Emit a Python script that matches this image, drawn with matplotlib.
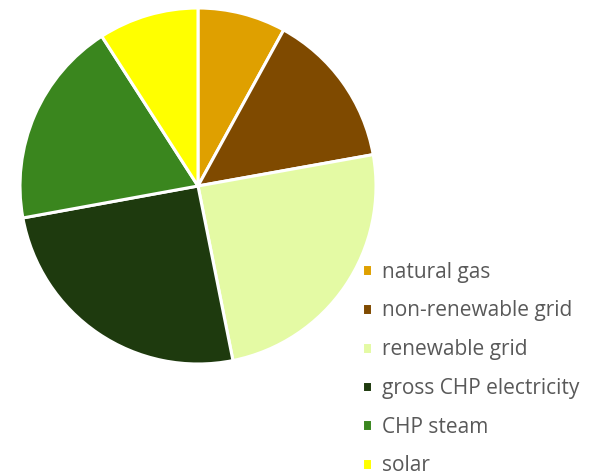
import matplotlib
matplotlib.use("Agg")
import matplotlib.pyplot as plt

labels = ["natural gas", "non-renewable grid", "renewable grid",
          "gross CHP electricity", "CHP steam", "solar"]
shares = [8.0, 14.2, 24.7, 25.3, 18.8, 9.1]
colors = ["#DFA000", "#7F4A00", "#E4FAA4", "#1E3A0E", "#3A861E", "#FFFF00"]

W, H = 594, 472
fig = plt.figure(figsize=(W / 100, H / 100), dpi=100)
fig.patch.set_facecolor("white")

# pie area in pixel terms: centre (198,186), radius 178
cx, cy, r = 198, 186, 178
ax = fig.add_axes([(cx - r) / W, (H - cy - r) / H, 2 * r / W, 2 * r / H])
wedges, _ = ax.pie(shares, colors=colors, startangle=90, counterclock=False,
                   radius=1.0,
                   wedgeprops=dict(edgecolor="white", linewidth=2.2))
ax.set_xlim(-1, 1)
ax.set_ylim(-1, 1)
ax.set_aspect("equal")
ax.axis("off")

leg = fig.legend(wedges, labels, loc="upper left",
                 bbox_to_anchor=(343 / W, 1 - 243 / H),
                 frameon=False, handlelength=0.5, handleheight=0.5,
                 handletextpad=0.45, labelspacing=0.85,
                 prop={"family": "Open Sans", "size": 15})
for t in leg.get_texts():
    t.set_color("#595959")

fig.savefig("out.png", dpi=100, facecolor="white")
